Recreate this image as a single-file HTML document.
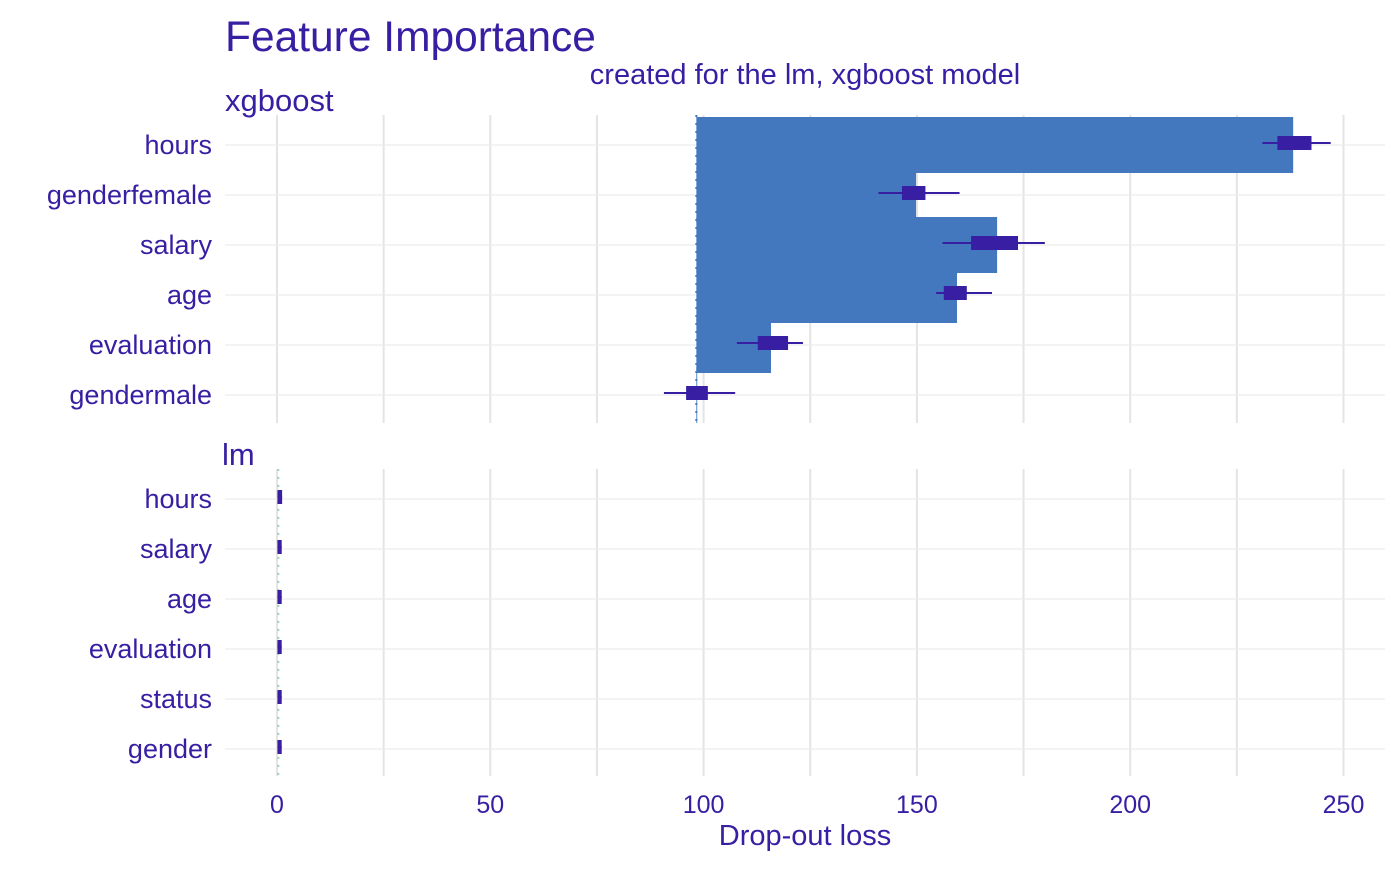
<!DOCTYPE html>
<html><head><meta charset="utf-8"><style>
body{margin:0;background:#fff;}
svg text{font-family:"Liberation Sans",Arial,sans-serif;fill:#371ea3;}
</style></head><body>
<svg id="c" width="1400" height="866" xmlns="http://www.w3.org/2000/svg">
<text x="225" y="51" font-size="42.5">Feature Importance</text>
<text x="805" y="84" font-size="29" text-anchor="middle">created for the lm, xgboost model</text>
<text x="225" y="111" font-size="31">xgboost</text>
<text x="222" y="465" font-size="31">lm</text>
<text x="805" y="845" font-size="29" text-anchor="middle">Drop-out loss</text>
<g id="g"></g>
</svg>
<script>
const xgbFeatures=["hours","genderfemale","salary","age","evaluation","gendermale"];
const xgbValues=[238.2,149.8,168.8,159.4,115.8,98.5];
const xgbBoxLow=[234.5,146.5,162.7,156.3,112.7,95.9];
const xgbBoxHigh=[242.5,152,173.7,161.7,119.8,101];
const xgbWhiskLow=[231,141,156,154.5,107.8,90.7];
const xgbWhiskHigh=[247,160,180,167.6,123.3,107.4];
const xgbBaseline=98.3;
const lmFeatures=["hours","salary","age","evaluation","status","gender"];
const lmValues=[0.6,0.5,0.5,0.5,0.5,0.5];
const lmBoxLow=[0.1,0.1,0.1,0.1,0.1,0.1];
const lmBoxHigh=[1.2,1.1,1.1,1.1,1.1,1.1];
const lmWhiskLow=[0.1,0.1,0.1,0.1,0.1,0.1];
const lmWhiskHigh=[1.2,1.1,1.1,1.1,1.1,1.1];
const lmBaseline=0.3;
const xTicks=[0,50,100,150,200,250];
const xMinor=[25,75,125,175,225];

const NS="http://www.w3.org/2000/svg";
const g=document.getElementById('g');
const x=v=>277+v*4.266;
function mk(t,a){const e=document.createElementNS(NS,t);for(const k in a)e.setAttribute(k,a[k]);g.appendChild(e);return e;}

function panel(name,feats,vals,bl,bh,wl,wh,base,top,bottom,baseColor,drawBars){
  const y=i=>top+30+i*50;
  [...xMinor,...xTicks].forEach(t=>{
    const l=mk('line',{x1:x(t),x2:x(t),y1:top,y2:bottom,stroke:'#e4e4e4','stroke-width':2});
    
    
  });
  feats.forEach((f,i)=>{
    const l=mk('line',{x1:225,x2:1385,y1:y(i),y2:y(i),stroke:'#ececec','stroke-width':1.2});
    
    
    const t=mk('text',{x:212,y:y(i)+9,'font-size':27,'text-anchor':'end'});
    t.textContent=f;
    
    
  });
  if(drawBars){
    const order=vals.map((v,i)=>i).sort((a,b)=>vals[a]-vals[b]);
    order.forEach(i=>{
      const a=Math.min(x(base),x(vals[i])),w=Math.abs(x(vals[i])-x(base));
      const r=mk('rect',{x:a,y:y(i)-28,width:w,height:56,fill:'#4378bf'});
      
      
    });
  }
  const bln=mk('line',{x1:x(base),x2:x(base),y1:top,y2:bottom,stroke:baseColor,'stroke-width':2,'stroke-dasharray':'2,6'});
  
  
  feats.forEach((f,i)=>{
    const cy=y(i)-2;
    const w=mk('line',{x1:x(wl[i]),x2:x(wh[i]),y1:cy,y2:cy,stroke:'#371ea3','stroke-width':2});
    
    
    const bw=Math.max(x(bh[i])-x(bl[i]),4);
    const b=mk('rect',{x:x(bl[i]),y:cy-7,width:bw,height:14,fill:'#371ea3'});
    
    
  });
}
panel('xgboost',xgbFeatures,xgbValues,xgbBoxLow,xgbBoxHigh,xgbWhiskLow,xgbWhiskHigh,xgbBaseline,115,423,'#4378bf',true);
panel('lm',lmFeatures,lmValues,lmBoxLow,lmBoxHigh,lmWhiskLow,lmWhiskHigh,lmBaseline,469,776,'#8bdcbe',false);
xTicks.forEach(t=>{
  const e=mk('text',{x:x(t),y:813,'font-size':25,'text-anchor':'middle'});
  e.textContent=t;
  
  
});
</script>
</body></html>
